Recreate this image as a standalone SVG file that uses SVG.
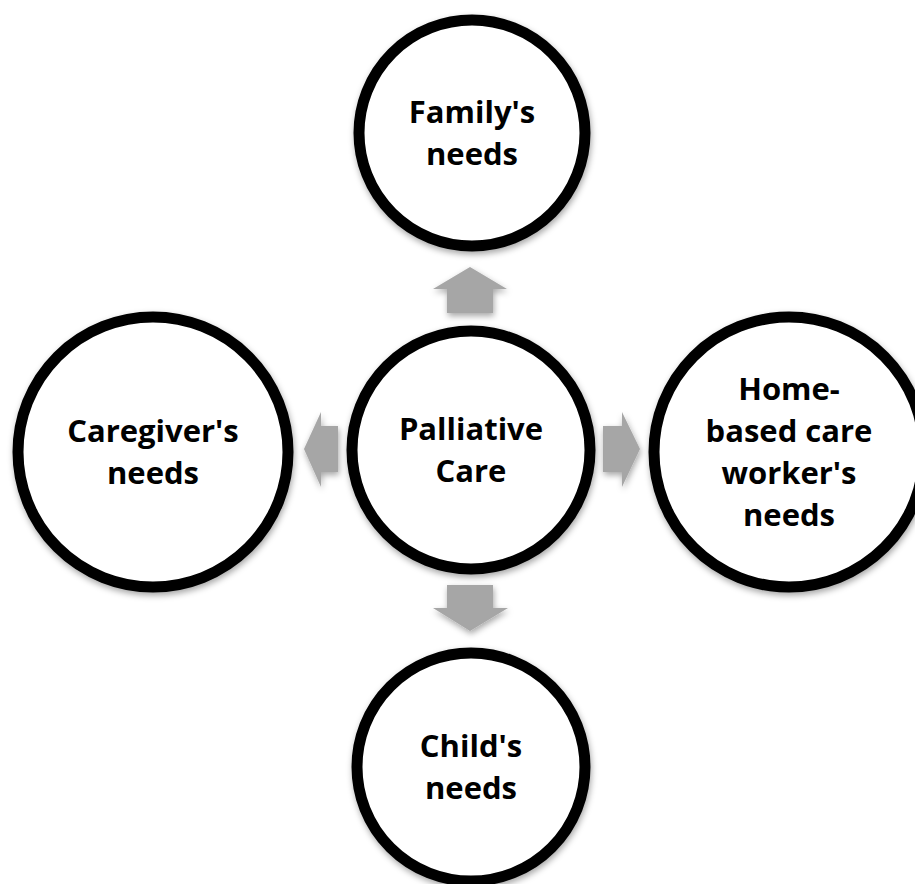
<svg xmlns="http://www.w3.org/2000/svg" width="915" height="884" viewBox="0 0 915 884">
  <defs>
    <filter id="shadow" x="-20%" y="-20%" width="140%" height="140%">
      <feDropShadow dx="1" dy="3" stdDeviation="3" flood-color="#000" flood-opacity="0.35"/>
    </filter>
    <style>
      .node circle { fill: #ffffff; stroke: #000000; stroke-width: 11; }
      .node text { font-family: "Open Sans", "Liberation Sans", sans-serif; font-weight: 700; font-size: 31px; fill: #000000; text-anchor: middle; }
      .arrow { fill: #a6a6a6; }
    </style>
  </defs>
  <rect width="915" height="884" fill="#ffffff"/>

  <g id="connectors" filter="url(#shadow)">
    <polygon class="arrow" points="470,267 507,289 493,289 493,313 447,313 447,289 433,289"/>
    <polygon class="arrow" points="447,585 493,585 493,608 508,608 470,631 433,608 447,608"/>
    <polygon class="arrow" points="304,449 321,412 321,426 338,426 338,472 321,472 321,487"/>
    <polygon class="arrow" points="603,426 622,426 622,412 640,449 622,487 622,472 603,472"/>
  </g>

  <g id="node-center" class="node">
    <circle cx="471" cy="450" r="119" filter="url(#shadow)"/>
    <text x="471" y="440">Palliative</text>
    <text x="471" y="482">Care</text>
  </g>

  <g id="node-family" class="node">
    <circle cx="472" cy="133" r="113" filter="url(#shadow)"/>
    <text x="472" y="123">Family's</text>
    <text x="472" y="165">needs</text>
  </g>

  <g id="node-caregiver" class="node">
    <circle cx="153" cy="452" r="135" filter="url(#shadow)"/>
    <text x="153" y="442">Caregiver's</text>
    <text x="153" y="484">needs</text>
  </g>

  <g id="node-homecare" class="node">
    <circle cx="789" cy="452" r="135" filter="url(#shadow)"/>
    <text x="789" y="400">Home-</text>
    <text x="789" y="442">based care</text>
    <text x="789" y="484">worker's</text>
    <text x="789" y="526">needs</text>
  </g>

  <g id="node-child" class="node">
    <circle cx="471" cy="767" r="114" filter="url(#shadow)"/>
    <text x="471" y="757">Child's</text>
    <text x="471" y="799">needs</text>
  </g>
</svg>
